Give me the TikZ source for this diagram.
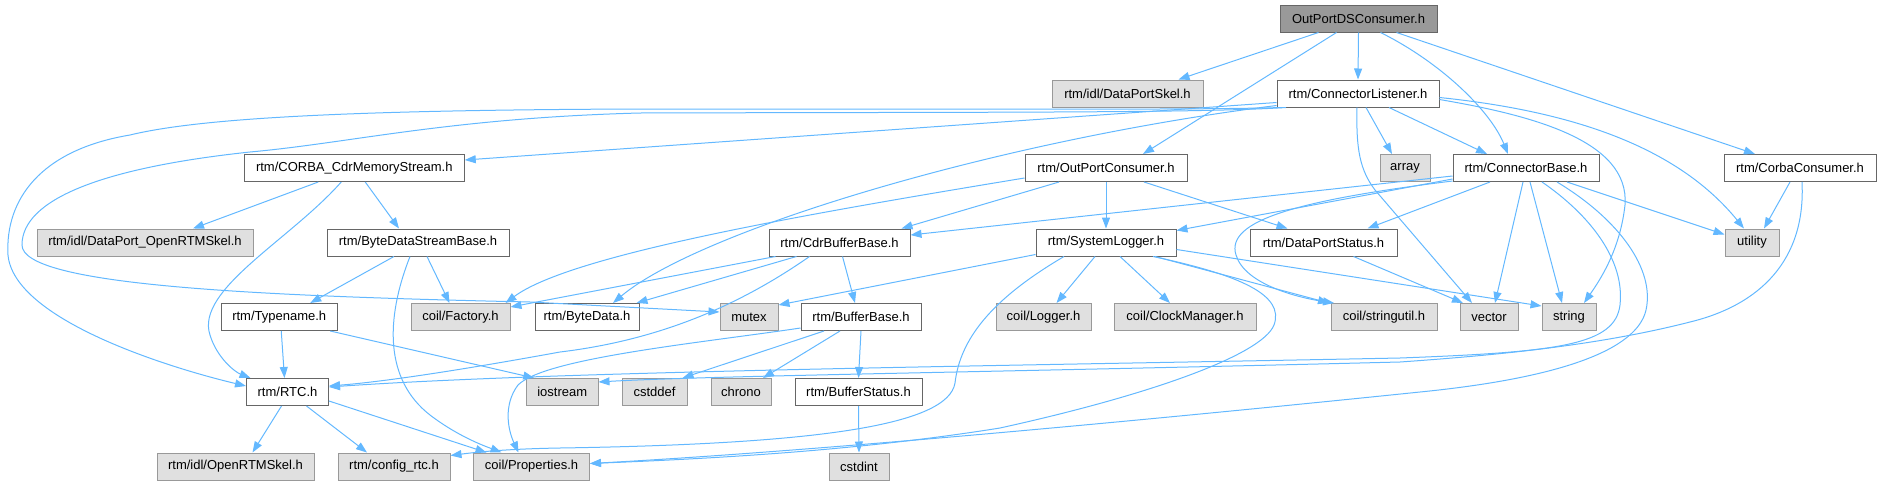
\documentclass[tikz,border=0pt]{standalone}
\usepackage{fontspec}
\setmainfont{Liberation Sans}
\usetikzlibrary{arrows.meta}
\definecolor{edgec}{HTML}{63B8FF}
\definecolor{wborder}{HTML}{666666}
\definecolor{gborder}{HTML}{999999}
\definecolor{gfill}{HTML}{E0E0E0}
\definecolor{rootfill}{HTML}{999999}
\begin{document}
\begin{tikzpicture}[x=1pt,y=-1pt,
 box/.style={draw, rectangle, minimum height=27pt, inner sep=0pt, line width=1pt, font=\fontsize{13}{15}\selectfont, text=black},
 wbox/.style={box, draw=wborder, fill=white},
 gbox/.style={box, draw=gborder, fill=gfill},
 rbox/.style={box, draw=wborder, fill=rootfill},
 dep/.style={draw=edgec, line width=1pt, -{Triangle[length=11pt,width=8pt]}}
]
\useasboundingbox (0,0) rectangle (1880,485);
% row 1
\node[rbox, minimum width=157pt] (root) at (1358.5,18.5) {OutPortDSConsumer.h};
% row 2
\node[gbox, minimum width=151pt] (DPS) at (1127.5,93.5) {rtm/idl/DataPortSkel.h};
\node[wbox, minimum width=162pt] (CL) at (1358,93.5) {rtm/ConnectorListener.h};
% row 3
\node[wbox, minimum width=220pt] (CDRM) at (354.25,168) {rtm/CORBA\_CdrMemoryStream.h};
\node[wbox, minimum width=162pt] (OPC) at (1106,168) {rtm/OutPortConsumer.h};
\node[gbox, minimum width=50pt] (array) at (1405,168) {array};
\node[wbox, minimum width=146pt] (CB) at (1526,168) {rtm/ConnectorBase.h};
\node[wbox, minimum width=152pt] (CC) at (1800,168) {rtm/CorbaConsumer.h};
% row 4
\node[gbox, minimum width=216pt] (DPOS) at (145,242.5) {rtm/idl/DataPort\_OpenRTMSkel.h};
\node[wbox, minimum width=182pt] (BDSB) at (418,242.5) {rtm/ByteDataStreamBase.h};
\node[wbox, minimum width=141pt] (CBB) at (839.5,242.5) {rtm/CdrBufferBase.h};
\node[wbox, minimum width=140pt] (SL) at (1106,242.5) {rtm/SystemLogger.h};
\node[wbox, minimum width=147pt] (DPSt) at (1323.5,242.5) {rtm/DataPortStatus.h};
\node[gbox, minimum width=54pt] (utility) at (1752,242.5) {utility};
% row 5
\node[wbox, minimum width=116.5pt] (TN) at (279.25,317) {rtm/Typename.h};
\node[gbox, minimum width=99pt] (Fac) at (460.5,317) {coil/Factory.h};
\node[wbox, minimum width=104pt] (BD) at (587,317) {rtm/ByteData.h};
\node[gbox, minimum width=58pt] (mutex) at (749,317) {mutex};
\node[wbox, minimum width=120pt] (BB) at (861,317) {rtm/BufferBase.h};
\node[gbox, minimum width=95pt] (Log) at (1043.5,317) {coil/Logger.h};
\node[gbox, minimum width=142pt] (CM) at (1185,317) {coil/ClockManager.h};
\node[gbox, minimum width=106pt] (SU) at (1384,317) {coil/stringutil.h};
\node[gbox, minimum width=58pt] (vector) at (1489,317) {vector};
\node[gbox, minimum width=54pt] (string) at (1569,317) {string};
% row 6
\node[wbox, minimum width=82pt] (RTC) at (287.5,392) {rtm/RTC.h};
\node[gbox, minimum width=71.5pt] (iostream) at (562.25,392) {iostream};
\node[gbox, minimum width=65pt] (cstddef) at (654.5,392) {cstddef};
\node[gbox, minimum width=60pt] (chrono) at (741,392) {chrono};
\node[wbox, minimum width=127pt] (BS) at (858.5,392) {rtm/BufferStatus.h};
% row 7
\node[gbox, minimum width=157pt] (ORS) at (235.5,466.5) {rtm/idl/OpenRTMSkel.h};
\node[gbox, minimum width=112pt] (cfg) at (394,466.5) {rtm/config\_rtc.h};
\node[gbox, minimum width=116pt] (Prop) at (531.5,466.5) {coil/Properties.h};
\node[gbox, minimum width=60pt] (cstdint) at (859,466.5) {cstdint};

% root edges
\draw[dep] ([xshift=-40pt]root.south) -- ([xshift=51pt]DPS.north);
\draw[dep] (root.south) -- (CL.north);
\draw[dep] ([xshift=-22pt]root.south) -- ([xshift=37pt]OPC.north);
\draw[dep] ([xshift=22pt]root.south) .. controls (1440,62) and (1490,110) .. ([xshift=-18pt]CB.north);
\draw[dep] ([xshift=38pt]root.south) -- ([xshift=-45pt]CC.north);
% ConnectorListener edges
\draw[dep] ([yshift=-9pt]CL.west) -- ([yshift=8pt]CDRM.east);
\draw[dep] ([xshift=-76pt]CL.south) .. controls (1200,110) and (1000,109) .. (640,109)
  .. controls (350,110) and (200,118) .. (130,135)
  .. controls (40,150) and (5,200) .. (8,255) .. controls (14,320) and (170,368) .. ([yshift=6pt]RTC.west);
\draw[dep] ([xshift=-72pt]CL.south) .. controls (1200,113) and (1000,112) .. (640,113)
  .. controls (450,118) and (350,143) .. (250,152)
  .. controls (100,168) and (22,200) .. (22,245) .. controls (22,285) and (250,296) .. (530,302)
  -- ([yshift=5pt]mutex.west);
\draw[dep] ([yshift=-12pt]CL.west) .. controls (1000,140) and (700,230) .. ([xshift=26pt]BD.north);
\draw[dep] ([xshift=8pt]CL.south) -- ([xshift=-13pt]array.north);
\draw[dep] ([xshift=31pt]CL.south) -- ([xshift=-39pt]CB.north);
\draw[dep] ([xshift=-1pt]CL.south) .. controls (1356,150) and (1360,170) .. (1375,190) -- ([xshift=-17pt]vector.north);
\draw[dep] ([yshift=-6pt]CL.east) .. controls (1530,115) and (1630,140) .. (1625,205)
  .. controls (1620,250) and (1600,280) .. ([xshift=15pt]string.north);
\draw[dep] ([yshift=-4pt]CL.east) .. controls (1580,112) and (1680,150) .. ([xshift=-8pt]utility.north);
% ConnectorBase edges
\draw[dep] ([yshift=-8pt]CB.west) -- ([yshift=7.5pt]CBB.east);
\draw[dep] ([yshift=-11pt]CB.west) -- ([yshift=12pt]SL.east);
\draw[dep] ([yshift=-13pt]CB.west) .. controls (1300,200) and (1225,220) .. (1236,255)
  .. controls (1245,285) and (1300,298) .. ([xshift=-50pt]SU.north);
\draw[dep] ([xshift=-36pt]CB.south) -- ([xshift=44pt]DPSt.north);
\draw[dep] ([xshift=-3pt]CB.south) -- ([xshift=6pt]vector.north);
\draw[dep] ([xshift=4pt]CB.south) -- ([xshift=-7pt]string.north);
\draw[dep] ([xshift=41pt]CB.south) -- ([yshift=8pt]utility.west);
\draw[dep] ([xshift=16pt]CB.south) .. controls (1590,215) and (1625,260) .. (1620,305)
  .. controls (1615,345) and (1560,352) .. (1400,358)
  .. controls (1000,366) and (560,371) .. ([yshift=5pt]RTC.east);
\draw[dep] ([xshift=31pt]CB.south) .. controls (1620,220) and (1655,270) .. (1646,310)
  .. controls (1637,350) and (1560,378) .. (1420,392)
  .. controls (1100,425) and (800,452) .. ([yshift=3pt]Prop.east);
% CorbaConsumer edges
\draw[dep] ([xshift=-10pt]CC.south) -- ([xshift=12pt]utility.north);
\draw[dep] ([xshift=2pt]CC.south) .. controls (1806,260) and (1760,305) .. (1690,322)
  .. controls (1600,345) and (1500,355) .. (1400,362)
  .. controls (1000,372) and (700,376) .. ([yshift=10pt]iostream.east);
% OutPortConsumer edges
\draw[dep] ([yshift=-10pt]OPC.west) .. controls (800,215) and (570,255) .. ([xshift=45pt]Fac.north);
\draw[dep] ([xshift=-47pt]OPC.south) -- ([xshift=62pt]CBB.north);
\draw[dep] (OPC.south) -- (SL.north);
\draw[dep] ([xshift=38pt]OPC.south) -- ([xshift=-36pt]DPSt.north);
% CORBA_CdrMemoryStream edges
\draw[dep] ([xshift=-36pt]CDRM.south) -- ([xshift=48pt]DPOS.north);
\draw[dep] ([xshift=-13pt]CDRM.south) .. controls (290,240) and (195,290) .. (210,335)
  .. controls (217,358) and (235,372) .. ([xshift=-37pt]RTC.north);
\draw[dep] ([xshift=11pt]CDRM.south) -- ([xshift=-19pt]BDSB.north);
% ByteDataStreamBase edges
\draw[dep] ([xshift=-24pt]BDSB.south) -- ([xshift=31pt]TN.north);
\draw[dep] ([xshift=9pt]BDSB.south) -- ([xshift=-11pt]Fac.north);
\draw[dep] ([xshift=-8pt]BDSB.south) .. controls (385,320) and (385,380) .. (430,415)
  .. controls (460,438) and (490,448) .. ([xshift=-30pt]Prop.north);
% Typename edges
\draw[dep] ([xshift=2pt]TN.south) -- ([xshift=-3pt]RTC.north);
\draw[dep] ([xshift=51pt]TN.south) -- ([xshift=-28pt]iostream.north);
% CdrBufferBase edges
\draw[dep] ([xshift=-64pt]CBB.south) -- ([yshift=-4pt]Fac.north east);
\draw[dep] ([xshift=-43pt]CBB.south) -- ([xshift=-3pt]BD.north east);
\draw[dep] ([xshift=3pt]CBB.south) -- ([xshift=-6pt]BB.north);
\draw[dep] ([xshift=-30pt]CBB.south) .. controls (740,305) and (660,340) .. (560,352)
  .. controls (450,372) and (380,382) .. ([yshift=6pt]RTC.east);
% BufferBase edges
\draw[dep] ([yshift=-11pt]BB.west) .. controls (700,343) and (545,358) .. (518,385)
  .. controls (503,405) and (508,430) .. ([xshift=-13pt]Prop.north);
\draw[dep] ([xshift=-37pt]BB.south) -- ([xshift=28pt]cstddef.north);
\draw[dep] ([xshift=-21pt]BB.south) -- ([xshift=22pt]chrono.north);
\draw[dep] (BB.south) -- (BS.north);
\draw[dep] (BS.south) -- (cstdint.north);
% SystemLogger edges
\draw[dep] ([yshift=-12pt]SL.west) -- ([yshift=12pt]mutex.east);
\draw[dep] ([xshift=-11pt]SL.south) -- ([xshift=13pt]Log.north);
\draw[dep] ([xshift=14pt]SL.south) -- ([xshift=-15pt]CM.north);
\draw[dep] ([xshift=49pt]SL.south) -- ([xshift=-55pt]SU.north);
\draw[dep] ([yshift=-7pt]SL.east) -- ([yshift=-3pt]string.north west);
\draw[dep] ([xshift=-42pt]SL.south) .. controls (990,300) and (960,340) .. (955,383)
  .. controls (948,425) and (820,444) .. (560,448)
  .. controls (500,449) and (470,453) .. ([yshift=11pt]cfg.east);
\draw[dep] ([xshift=47pt]SL.south) .. controls (1240,275) and (1285,295) .. (1274,325)
  .. controls (1262,355) and (1150,395) .. (1000,428)
  .. controls (850,452) and (700,459) .. ([yshift=3pt]Prop.east);
% DataPortStatus
\draw[dep] ([xshift=30pt]DPSt.south) -- ([xshift=-26pt]vector.north);
% RTC edges
\draw[dep] ([xshift=-6pt]RTC.south) -- ([xshift=17pt]ORS.north);
\draw[dep] ([xshift=19pt]RTC.south) -- ([xshift=-27pt]cfg.north);
\draw[dep] ([yshift=-9pt]RTC.east) -- ([xshift=-45pt]Prop.north);
\end{tikzpicture}
\end{document}
